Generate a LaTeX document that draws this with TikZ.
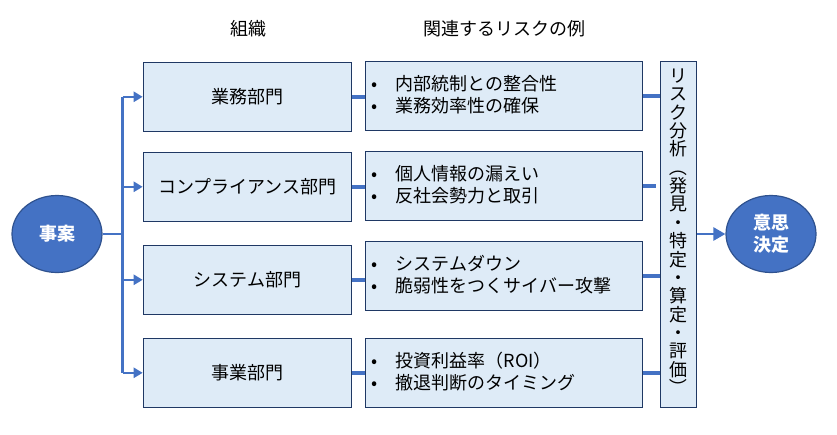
\documentclass[tikz,border=0pt]{standalone}
\usepackage{fontspec}
\setmainfont{Noto Sans CJK JP}
\usetikzlibrary{arrows.meta,shapes.geometric}
\definecolor{boxfill}{HTML}{DEEBF7}
\definecolor{boxline}{HTML}{1F3864}
\definecolor{accent}{HTML}{4472C4}
\definecolor{ellline}{HTML}{2F528F}
\begin{document}
\begin{tikzpicture}[x=1pt,y=-1pt,
  txt/.style={font=\fontsize{18}{22}\selectfont, text=black},
  orgbox/.style={draw=boxline, line width=1.2pt, fill=boxfill, minimum width=208pt, minimum height=69pt, inner sep=0pt, txt},
  riskbox/.style={draw=boxline, line width=1.2pt, fill=boxfill, minimum width=277pt, minimum height=69pt, inner sep=0pt},
  vbox/.style={draw=boxline, line width=1.2pt, fill=boxfill, minimum width=36pt, minimum height=346pt, inner sep=0pt},
  oval/.style={ellipse, draw=ellline, line width=1.2pt, fill=accent, minimum width=90pt, minimum height=77pt, inner sep=0pt, align=center, text=white, font=\fontsize{18}{22}\selectfont\bfseries},
  bar/.style={draw=accent, line width=3.5pt},
  branch/.style={draw=accent, line width=2.5pt},
  arr/.style={draw=accent, line width=2.5pt, -{Triangle[length=9pt,width=10pt]}},
  bigarr/.style={draw=accent, line width=2.5pt, -{Triangle[length=12pt,width=13pt]}},
  bullets/.style={anchor=west, align=left, inner sep=0pt, txt},
  vch/.style={inner sep=0pt, txt, text height=12pt, text depth=3pt}
]
\useasboundingbox (0,0) rectangle (837,434);

% headers
\node[txt] (h1) at (248,29) {組織};
\node[txt] (h2) at (504,29) {関連するリスクの例};

% ellipses
\node[oval] (E1) at (57,234) {事案};
\node[oval] (E2) at (771,234) {意思\\決定};

% organisation boxes
\node[orgbox] (L1) at (247.3,96.8) {業務部門};
\node[orgbox] (L2) at (247.3,186.8) {コンプライアンス部門};
\node[orgbox] (L3) at (247.3,279.8) {システム部門};
\node[orgbox] (L4) at (247.3,372.8) {事業部門};

% risk boxes
\node[riskbox] (R1) at (503.8,96) {};
\node[riskbox] (R2) at (503.8,185.8) {};
\node[riskbox] (R3) at (503.8,275.8) {};
\node[riskbox] (R4) at (503.8,372.8) {};

\newcommand{\bul}{\makebox[24pt][l]{•}}
\node[bullets] (T1) at ([xshift=7pt,yshift=1.5pt]R1.west) {\bul 内部統制との整合性\\\bul 業務効率性の確保};
\node[bullets] (T2) at ([xshift=7pt,yshift=1.5pt]R2.west) {\bul 個人情報の漏えい\\\bul 反社会勢力と取引};
\node[bullets] (T3) at ([xshift=7pt,yshift=1.5pt]R3.west) {\bul システムダウン\\\bul 脆弱性をつくサイバー攻撃};
\node[bullets] (T4) at ([xshift=7pt,yshift=1.5pt]R4.west) {\bul 投資利益率（ROI）\\\bul 撤退判断のタイミング};

% vertical analysis box
\node[vbox] (V) at (678.3,234.3) {};
\foreach \c [count=\i from 0] in {リ,ス,ク,分,析,{\rotatebox[origin=c]{-90}{（}},発,見,・,特,定,・,算,定,・,評,価,{\rotatebox[origin=c]{-90}{）}}}
  \node[vch] (v\i) at (678.3,{78+18.35*\i}) {\c};

% branch from 事案
\coordinate (J) at (122.7,234);
\draw[branch] (E1.east) -- (J);
\draw[branch] (J |- L1.west) -- (J |- L4.west);
\draw[arr] (J |- L1.west) -- (L1.west);
\draw[arr] (J |- L2.west) -- (L2.west);
\draw[arr] (J |- L3.west) -- (L3.west);
\draw[arr] (J |- L4.west) -- (L4.west);

% org -> risk
\draw[bar] (L1.east) -- (L1.east -| R1.west);
\draw[bar] (L2.east) -- (L2.east -| R2.west);
\draw[bar] (L3.east) -- (L3.east -| R3.west);
\draw[bar] (L4.east) -- (L4.east -| R4.west);

% risk -> analysis
\draw[bar] (R1.east) -- (R1.east -| V.west);
\draw[bar] (R2.east) -- ([xshift=-4pt]R2.east -| V.west);
\draw[bar] (R3.east) -- (R3.east -| V.west);
\draw[bar] (R4.east) -- (R4.east -| V.west);

% analysis -> decision
\draw[bigarr] (V.east |- E2.west) -- (E2.west);
\end{tikzpicture}
\end{document}
